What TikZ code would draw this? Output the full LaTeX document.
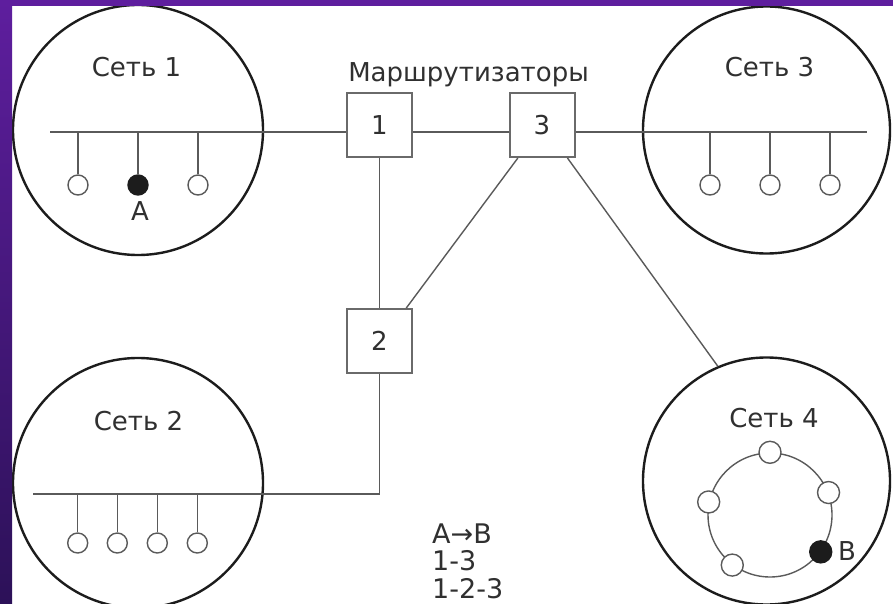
\documentclass[tikz,border=0pt]{standalone}
\usepackage{fontspec}
\setmainfont{DejaVu Sans}
\usetikzlibrary{calc}
\definecolor{purpletop}{HTML}{5E1E9E}
\definecolor{purplebot}{HTML}{2C1158}
\definecolor{netc}{HTML}{1C1C1C}
\definecolor{linec}{HTML}{5A5A5A}
\definecolor{boxc}{HTML}{6A6A6A}
\definecolor{txtc}{HTML}{303030}
\begin{document}
\begin{tikzpicture}[x=1pt,y=-1pt,
  net/.style={circle, draw=netc, line width=2.4pt, inner sep=0pt},
  router/.style={rectangle, draw=boxc, line width=2pt, fill=white, minimum width=65pt, minimum height=64pt, inner sep=0pt, text=txtc, font=\fontsize{26}{30}\selectfont},
  bus/.style={draw=linec, line width=1.8pt},
  link/.style={draw=linec, line width=1.4pt},
  host/.style={circle, draw=linec, line width=1.4pt, fill=white, minimum size=20pt, inner sep=0pt},
  hostx/.style={host, fill=netc, draw=netc},
  lbl/.style={text=txtc, font=\fontsize{26}{30}\selectfont, inner sep=0pt},
  note/.style={text=txtc, font=\fontsize{27}{28}\selectfont, inner sep=0pt, anchor=base west}
]
\useasboundingbox (0,0) rectangle (893,604);
\fill[white] (0,0) rectangle (893,604);

% networks
\node[net, minimum size=250pt] (n1) at (138,130) {};
\node[net, minimum size=250pt] (n2) at (138,483) {};
\node[net, minimum size=247pt] (n3) at (766.5,130) {};
\node[net, minimum size=247pt] (n4) at (766.5,481) {};

\node[lbl, anchor=base] (l1) at (136.5,77) {Сеть 1};
\node[lbl, anchor=base] (l2) at (138.5,430) {Сеть 2};
\node[lbl, anchor=base] (l3) at (769.5,77) {Сеть 3};
\node[lbl, anchor=base] (l4) at (774,427) {Сеть 4};
\node[lbl, anchor=base] (lr) at (468.5,82) {Маршрутизаторы};

% routers
\node[router] (r1) at (379.5,125) {1};
\node[router] (r3) at (542,125) {3};
\node[router] (r2) at (379.5,341) {2};

% bus endpoints
\coordinate (b1) at (50,132);
\coordinate (b3) at (867,132);
\coordinate (b2) at (33,494);

\draw[bus] (b1) -- (b1 -| r1.west);
\draw[bus] (r1.east |- b1) -- (r3.west |- b1);
\draw[bus] (r3.east |- b3) -- (b3);
\draw[bus] (r1.south) -- (r2.north);
\draw[bus] (r2.south) -- (r2.south |- b2) -- (b2);
\draw[link] ($(r3.south west)!0.14!(r3.south east)$) -- ($(r2.north west)!0.9!(r2.north east)$);
\draw[link] ($(r3.south west)!0.88!(r3.south east)$) -- (n4.113.7);

% hosts net 1
\node[host] (h11) at (78,185) {};
\node[hostx] (h12) at (138,185) {};
\node[host] (h13) at (198,185) {};
\foreach \h in {h11,h12,h13} \draw[link] (\h) -- (\h |- b1);
\node[lbl, anchor=base] (la) at (140,220) {A};

% hosts net 3
\node[host] (h31) at (710,185) {};
\node[host] (h32) at (770,185) {};
\node[host] (h33) at (830,185) {};
\foreach \h in {h31,h32,h33} \draw[link] (\h) -- (\h |- b3);

% hosts net 2
\node[host] (h21) at (77.7,543) {};
\node[host] (h22) at (117.3,543) {};
\node[host] (h23) at (157.3,543) {};
\node[host] (h24) at (197.3,543) {};
\foreach \h in {h21,h22,h23,h24} \draw[link] (\h) -- (\h |- b2);

% ring net 4
\node[circle, draw=linec, line width=1.4pt, minimum size=124pt, inner sep=0pt] (ring) at (770,515) {};
\node[host, minimum size=22pt] (g1) at (ring.90) {};
\node[host, minimum size=22pt] (g2) at (ring.21) {};
\node[host, minimum size=22pt] (g3) at (ring.168) {};
\node[host, minimum size=22pt] (g4) at (ring.233) {};
\node[hostx, minimum size=22pt] (g5) at (ring.324) {};
\node[lbl, anchor=base west] (lb) at (838,560) {B};

% route notes
\node[note] (t1) at (432,543) {A→B};
\node[note] (t2) at (432,570.5) {1-3};
\node[note] (t3) at (432,598) {1-2-3};

% purple frame
\shade[top color=purpletop, bottom color=purplebot] (0,0) rectangle (12,604);
\fill[purpletop] (0,0) rectangle (893,6);
\end{tikzpicture}
\end{document}
